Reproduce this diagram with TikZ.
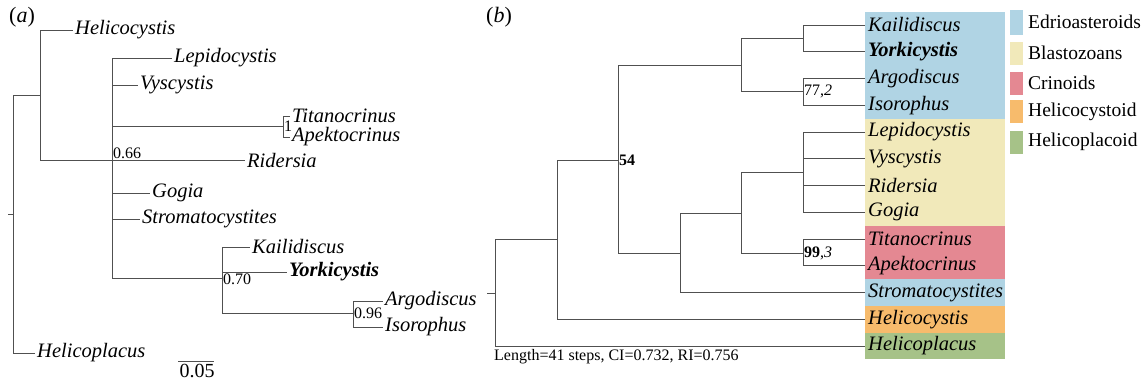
\documentclass[tikz,border=0pt]{standalone}
\usepackage{fontspec}
\setmainfont{Liberation Serif}
\definecolor{edrio}{RGB}{176,212,228}
\definecolor{blasto}{RGB}{241,233,186}
\definecolor{crin}{RGB}{228,136,146}
\definecolor{helcy}{RGB}{247,187,108}
\definecolor{helpl}{RGB}{166,194,136}
\definecolor{branch}{RGB}{80,80,80}
\tikzset{
  br/.style={draw=branch, line width=0.9pt},
  taxon/.style={anchor=west, inner xsep=2pt, inner ysep=0pt, font=\fontsize{20.5}{21}\selectfont\itshape},
  btaxon/.style={taxon, font=\fontsize{20.5}{21}\selectfont\itshape\bfseries},
  supp/.style={inner sep=1pt, font=\fontsize{16}{17}\selectfont},
  legtext/.style={anchor=west, inner sep=0pt, font=\fontsize{19.5}{20}\selectfont},
  panel/.style={anchor=west, inner sep=0pt, font=\fontsize{22}{22}\selectfont},
}
\begin{document}
\begin{tikzpicture}[x=1pt, y=-1pt]
\useasboundingbox (0,0) rectangle (1143,388);
% ---------------- panel (a)
\node[panel] (pa) at (9,17) {(\textit{a})};
\coordinate (ar) at (13,214);
\coordinate (as) at (8,214);
\coordinate (aA) at (40,95);
\coordinate (aB) at (112,160);
\coordinate (aC) at (283,126);
\coordinate (aD) at (222,278);
\coordinate (aE) at (353,313);
\node[taxon] (aHcy) at (73,30) {Helicocystis};
\node[taxon] (aLep) at (172,58) {Lepidocystis};
\node[taxon] (aVys) at (138,85) {Vyscystis};
\node[taxon] (aTit) at (290,116) {Titanocrinus};
\node[taxon] (aApe) at (290,137) {Apektocrinus};
\node[taxon] (aRid) at (245,160) {Ridersia};
\node[taxon] (aGog) at (150,193) {Gogia};
\node[taxon] (aStr) at (140,219) {Stromatocystites};
\node[taxon] (aKai) at (250,247) {Kailidiscus};
\node[btaxon] (aYor) at (287,272) {Yorkicystis};
\node[taxon] (aArg) at (383,301) {Argodiscus};
\node[taxon] (aIso) at (383,327) {Isorophus};
\node[taxon] (aHpl) at (35,353) {Helicoplacus};
\draw[br] (as) -- (ar);
\draw[br] (ar) |- (aA);
\draw[br] (ar) |- (aHpl.west);
\draw[br] (aA) |- (aHcy.west);
\draw[br] (aA) |- (aB);
\draw[br] (aB) |- (aLep.west);
\draw[br] (aB) |- (aVys.west);
\draw[br] (aB) |- (aC);
\draw[br] (aB) -- (aRid.west);
\draw[br] (aB) |- (aGog.west);
\draw[br] (aB) |- (aStr.west);
\draw[br] (aB) |- (aD);
\draw[br] (aC) |- (aTit.west);
\draw[br] (aC) |- (aApe.west);
\draw[br] (aD) |- (aKai.west);
\draw[br] (aD) |- (aYor.west);
\draw[br] (aD) |- (aE);
\draw[br] (aE) |- (aArg.west);
\draw[br] (aE) |- (aIso.west);
\node[supp, anchor=south west] (l066) at (aB) {0.66};
\node[supp, anchor=west] (l1) at (aC) {1};
\node[supp, anchor=north west] (l070) at (222,273) {0.70};
\node[supp, anchor=west] (l096) at (aE) {0.96};
\coordinate (sb1) at (178,361);
\coordinate (sb2) at (214,361);
\draw[br, line width=0.7pt] (sb1) -- (sb2);
\node[inner sep=0pt, anchor=north, font=\fontsize{20}{20}\selectfont] (sbl) at (197,364) {0.05};
% ---------------- panel (b)
\node[panel] (pb) at (486,17) {(\textit{b})};
% colour boxes
\fill[edrio] (865,11.6) rectangle (1005,118.6);
\fill[blasto] (865,118.6) rectangle (1005,225.6);
\fill[crin] (865,225.6) rectangle (1005,279.1);
\fill[edrio] (865,279.1) rectangle (1005,305.9);
\fill[helcy] (865,305.9) rectangle (1005,332.6);
\fill[helpl] (865,332.6) rectangle (1005,359.4);
\coordinate (br0) at (495,293);
\coordinate (bs) at (487,293);
\coordinate (bF) at (557,239);
\coordinate (bG) at (618,160);
\coordinate (bH) at (741,65);
\coordinate (bI) at (680,253);
\coordinate (bJ) at (803,38);
\coordinate (bK) at (803,91);
\coordinate (bL) at (741,213);
\coordinate (bM) at (803,172);
\coordinate (bN) at (803,253);
\node[taxon, inner xsep=3pt] (bKai) at (865,25) {Kailidiscus};
\node[btaxon, inner xsep=3pt] (bYor) at (865,51.75) {Yorkicystis};
\node[taxon, inner xsep=3pt] (bArg) at (865,78.5) {Argodiscus};
\node[taxon, inner xsep=3pt] (bIso) at (865,105.25) {Isorophus};
\node[taxon, inner xsep=3pt] (bLep) at (865,132) {Lepidocystis};
\node[taxon, inner xsep=3pt] (bVys) at (865,158.75) {Vyscystis};
\node[taxon, inner xsep=3pt] (bRid) at (865,185.5) {Ridersia};
\node[taxon, inner xsep=3pt] (bGog) at (865,212.25) {Gogia};
\node[taxon, inner xsep=3pt] (bTit) at (865,239) {Titanocrinus};
\node[taxon, inner xsep=3pt] (bApe) at (865,265.75) {Apektocrinus};
\node[taxon, inner xsep=3pt] (bStr) at (865,292.5) {Stromatocystites};
\node[taxon, inner xsep=3pt] (bHcy) at (865,319.25) {Helicocystis};
\node[taxon, inner xsep=3pt] (bHpl) at (865,346) {Helicoplacus};
\draw[br] (bs) -- (br0);
\draw[br] (br0) |- (bF);
\draw[br] (br0) |- (bHpl.west);
\draw[br] (bF) |- (bG);
\draw[br] (bF) |- (bHcy.west);
\draw[br] (bG) |- (bH);
\draw[br] (bG) |- (bI);
\draw[br] (bH) |- (bJ);
\draw[br] (bH) |- (bK);
\draw[br] (bJ) |- (bKai.west);
\draw[br] (bJ) |- (bYor.west);
\draw[br] (bK) |- (bArg.west);
\draw[br] (bK) |- (bIso.west);
\draw[br] (bI) |- (bL);
\draw[br] (bI) |- (bStr.west);
\draw[br] (bL) |- (bM);
\draw[br] (bL) |- (bN);
\draw[br] (bM) |- (bLep.west);
\draw[br] (bM) |- (bVys.west);
\draw[br] (bM) |- (bRid.west);
\draw[br] (bM) |- (bGog.west);
\draw[br] (bN) |- (bTit.west);
\draw[br] (bN) |- (bApe.west);
\node[supp, anchor=west] (l54) at (bG) {\textbf{54}};
\node[supp, anchor=west] (l77) at (bK) {77,\textit{2}};
\node[supp, anchor=west] (l99) at (bN) {\textbf{99},\textit{3}};
\node[anchor=west, inner sep=0pt, font=\fontsize{16}{17}\selectfont] (stats) at (494,357) {Length=41 steps, CI=0.732, RI=0.756};
% legend
\fill[edrio] (1010,10) rectangle (1023,35);
\fill[blasto] (1010,42) rectangle (1023,65);
\fill[crin] (1010,72) rectangle (1023,95);
\fill[helcy] (1010,100) rectangle (1023,123);
\fill[helpl] (1010,131) rectangle (1023,154);
\node[legtext] (lg1) at (1028,22) {Edrioasteroids};
\node[legtext] (lg2) at (1028,53) {Blastozoans};
\node[legtext] (lg3) at (1028,83) {Crinoids};
\node[legtext] (lg4) at (1028,112) {Helicocystoid};
\node[legtext] (lg5) at (1028,142) {Helicoplacoid};
\end{tikzpicture}
\end{document}
